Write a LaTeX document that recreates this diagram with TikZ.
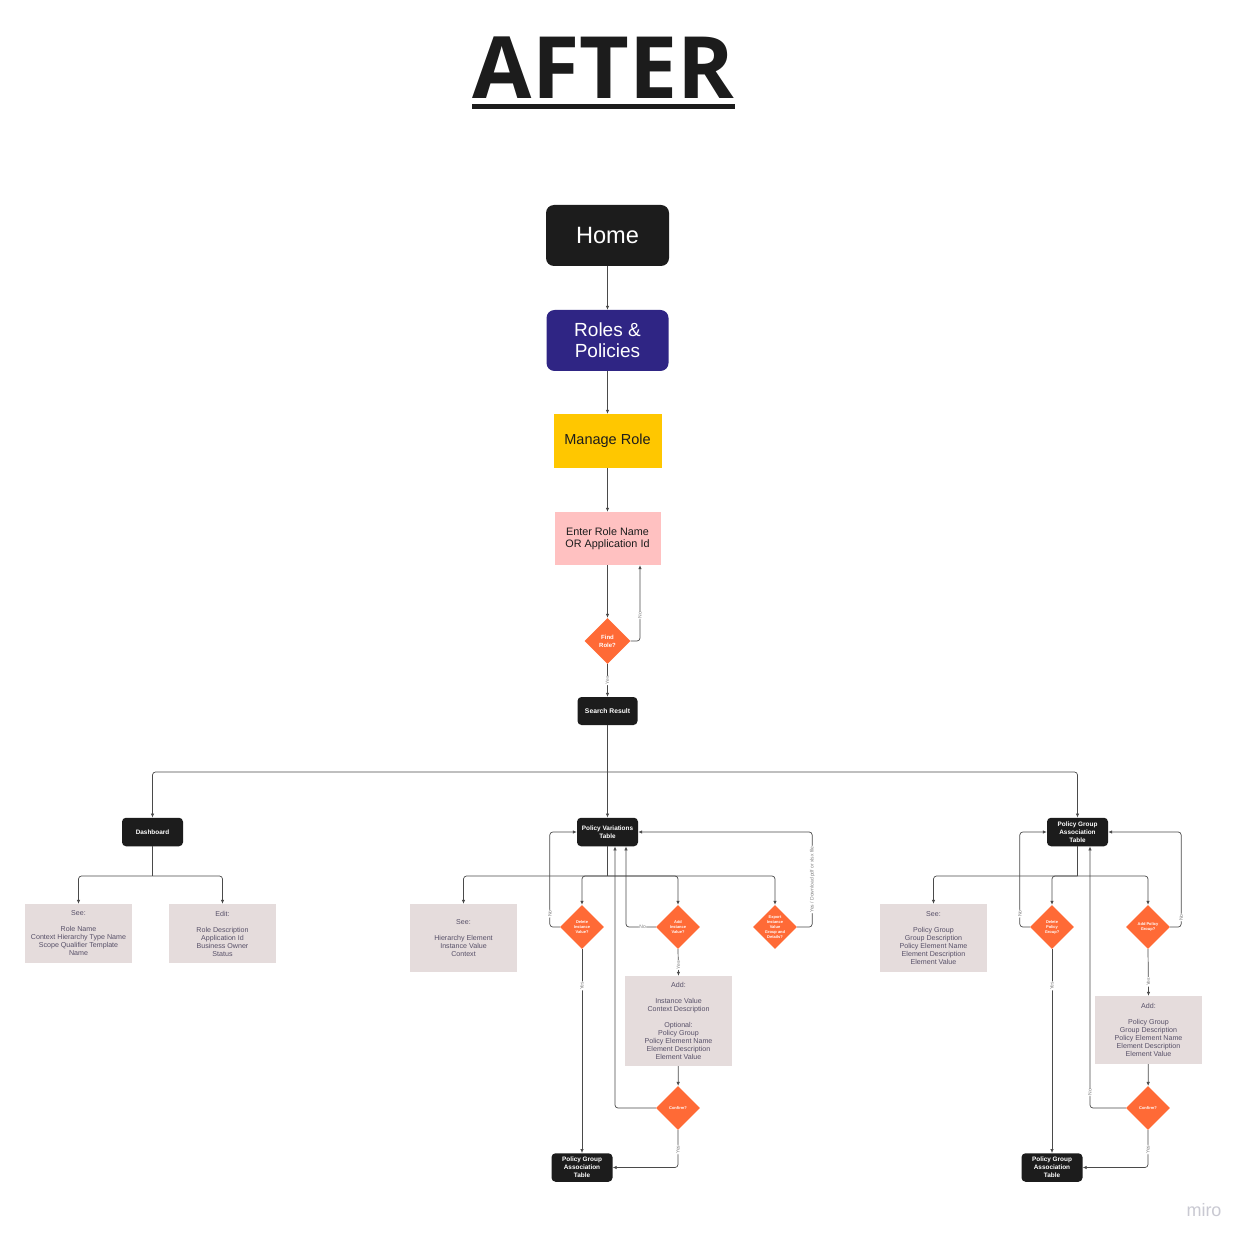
\documentclass[tikz,border=0pt]{standalone}
\usepackage{fontspec}
\usepackage{graphicx}
\setmainfont{Liberation Sans}
\newfontfamily\titlefont{Open Sans}
\usetikzlibrary{arrows.meta,shapes.geometric}
\definecolor{boxblack}{HTML}{1C1C1C}
\definecolor{rolepurple}{HTML}{2F2584}
\definecolor{manageyellow}{HTML}{FFC700}
\definecolor{enterpink}{HTML}{FFC1C1}
\definecolor{diaorange}{HTML}{FF6A36}
\definecolor{notegray}{HTML}{E5DCDC}
\definecolor{notetext}{HTML}{575068}
\definecolor{linecol}{HTML}{4A4A4A}
\definecolor{lblcol}{HTML}{808080}
\definecolor{mirocol}{HTML}{C9C9D2}
\begin{document}
\begin{tikzpicture}[x=1pt,y=-1pt,
  darkbox/.style={fill=boxblack, rounded corners=4pt, text=white, align=center, inner sep=0pt,
    minimum width=61pt, minimum height=28.5pt, font=\bfseries\fontsize{6.4}{8}\selectfont},
  graybox/.style={fill=notegray, text=notetext, align=center, inner sep=0pt,
    minimum width=107pt, font=\fontsize{7.1}{8}\selectfont},
  dia/.style={diamond, aspect=1, fill=diaorange, text=white, align=center, inner sep=0pt,
    minimum width=44pt, minimum height=44pt, font=\bfseries\fontsize{4}{5}\selectfont},
  conn/.style={draw=linecol, line width=0.7pt, rounded corners=3pt, -{Latex[length=4pt,width=3.5pt]}},
  plain/.style={draw=linecol, line width=0.7pt, rounded corners=3pt},
  lbl/.style={font=\fontsize{5}{5.5}\selectfont, text=lblcol, fill=white, inner sep=0.6pt},
  vlbl/.style={lbl, rotate=90}
]
\path[use as bounding box, fill=white] (0,0) rectangle (1253,1246);

% title
\node (title) at (603.5,68) {\titlefont\bfseries\fontsize{86}{86}\selectfont\textcolor{boxblack}{AFTER}};
\fill[boxblack] (472,104) rectangle (735,109.5);

% main column
\node[fill=boxblack, rounded corners=8pt, text=white, minimum width=123pt, minimum height=61pt,
  inner sep=0pt, font=\fontsize{23.6}{26}\selectfont] (home) at (607.5,235.5) {Home};
\node[fill=rolepurple, rounded corners=8pt, text=white, minimum width=122pt, minimum height=61pt,
  inner sep=0pt, align=center, font=\fontsize{19}{21}\selectfont] (roles) at (607.5,340.5) {Roles \&\\Policies};
\node[fill=manageyellow, text=boxblack, minimum width=108pt, minimum height=54pt, inner sep=0pt,
  font=\fontsize{14.5}{16}\selectfont] (manage) at (607.5,441) {Manage Role};
\node[fill=enterpink, text=boxblack, minimum width=106pt, minimum height=53pt, inner sep=0pt,
  align=center, font=\fontsize{10.8}{12}\selectfont] (enter) at (607.5,538.5) {Enter Role Name\\OR Application Id};
\node[dia, minimum width=46pt, minimum height=46pt, font=\bfseries\fontsize{6}{8}\selectfont] (find) at (607.5,641) {Find\\Role?};
\node[darkbox, minimum width=60pt, minimum height=28pt, font=\bfseries\fontsize{6.75}{8}\selectfont] (search) at (607.5,711) {Search Result};

\draw[conn] (home) -- (roles);
\draw[conn] (roles) -- (manage);
\draw[conn] (manage) -- (enter);
\draw[conn] (enter) -- (find);
\draw[conn] (find.east) -| node[vlbl, pos=0.67] {No} ([xshift=32.5pt]enter.south);
\draw[conn] (find) -- node[vlbl] {Yes} (search);

% second level
\node[darkbox] (dash) at (152.5,832) {Dashboard};
\node[darkbox] (pv) at (607.5,832) {Policy Variations\\Table};
\node[darkbox] (pga) at (1077.5,832) {Policy Group\\Association\\Table};

\coordinate (bus) at (607.5,772);
\draw[plain] (search) -- (bus);
\draw[conn] (bus) -| (dash.north);
\draw[conn] (bus) -| (pga.north);
\draw[conn] (bus) -- (pv.north);

% dashboard branch
\node[graybox, minimum height=59pt] (seeL) at (78.5,933.5) {See:\\[8pt]Role Name\\Context Hierarchy Type Name\\Scope Qualifier Template\\Name};
\node[graybox, minimum height=59pt] (editL) at (222.5,933.5) {Edit:\\[8pt]Role Description\\Application Id\\Business Owner\\Status};
\coordinate (dbus) at (152.5,876);
\draw[plain] (dash) -- (dbus);
\draw[conn] (dbus) -| (seeL.north);
\draw[conn] (dbus) -| (editL.north);

% policy variations branch
\node[graybox, minimum height=68pt] (seeM) at (463.5,938) {See:\\[8pt]Hierarchy Element\\Instance Value\\Context};
\node[dia] (delM) at (582,927) {Delete\\Instance\\Value?};
\node[dia] (addM) at (678,927) {Add\\Instance\\Value?};
\node[dia] (expM) at (775,927) {Export\\Instance\\Value\\Group and\\Details?};
\node[graybox, minimum height=90pt] (addboxM) at (678.5,1021) {Add:\\[8pt]Instance Value\\Context Description\\[8pt]Optional:\\Policy Group\\Policy Element Name\\Element Description\\Element Value};
\node[dia] (confM) at (678,1108) {Confirm?};
\node[darkbox] (pgaM) at (582,1167.5) {Policy Group\\Association\\Table};

\coordinate (pbus) at (607.5,876);
\draw[plain] (pv) -- (pbus);
\draw[conn] (pbus) -| (seeM.north);
\draw[conn] (pbus) -| (delM.north);
\draw[conn] (pbus) -| (addM.north);
\draw[conn] (pbus) -| (expM.north);

\draw[conn] (delM.west) -- ++(-10,0) |- node[vlbl, pos=0.07] {No} (pv.west);
\draw[conn] (delM.south) -- node[vlbl, pos=0.18] {Yes} (pgaM.north);
\draw[conn] (addM.west) -| node[lbl, pos=0.22] {No} ([xshift=18.5pt]pv.south);
\draw[conn] (addM.south) -- node[vlbl, pos=0.6] {Yes} (addboxM.north);
\draw[conn] (expM.east) -- ++(15,0) |- node[vlbl, pos=0.25] {Yes / Download pdf or xlsx file} (pv.east);
\draw[conn] (addboxM) -- (confM);
\draw[conn] (confM.west) -| ([xshift=7.5pt]pv.south);
\draw[conn] (confM.south) |- node[vlbl, pos=0.26] {Yes} (pgaM.east);

% policy group association branch
\node[graybox, minimum height=68pt] (seeR) at (933.5,938) {See:\\[8pt]Policy Group\\Group Description\\Policy Element Name\\Element Description\\Element Value};
\node[dia] (delR) at (1052,927) {Delete\\Policy\\Group?};
\node[dia] (addR) at (1148,927) {Add Policy\\Group?};
\node[graybox, minimum height=68pt] (addboxR) at (1148.5,1030) {Add:\\[8pt]Policy Group\\Group Description\\Policy Element Name\\Element Description\\Element Value};
\node[dia] (confR) at (1148,1108) {Confirm?};
\node[darkbox] (pgaR) at (1052,1167.5) {Policy Group\\Association\\Table};

\coordinate (rbus) at (1077.5,876);
\draw[plain] (pga) -- (rbus);
\draw[conn] (rbus) -| (seeR.north);
\draw[conn] (rbus) -| (delR.north);
\draw[conn] (rbus) -| (addR.north);

\draw[conn] (delR.west) -- ++(-10,0) |- node[vlbl, pos=0.07] {No} (pga.west);
\draw[conn] (delR.south) -- node[vlbl, pos=0.18] {Yes} (pgaR.north);
\draw[conn] (addR.east) -- ++(11,0) |- node[vlbl, pos=0.05] {No} (pga.east);
\draw[conn] (addR.south) -- node[vlbl, pos=0.7] {Yes} (addboxR.north);
\draw[conn] (addboxR) -- (confR);
\draw[conn] (confR.west) -| node[vlbl, pos=0.53] {No} ([xshift=12.5pt]pga.south);
\draw[conn] (confR.south) |- node[vlbl, pos=0.26] {Yes} (pgaR.east);

% watermark
\node[text=mirocol, font=\fontsize{18}{18}\selectfont] (miro) at (1204,1210) {miro};
\end{tikzpicture}
\end{document}
